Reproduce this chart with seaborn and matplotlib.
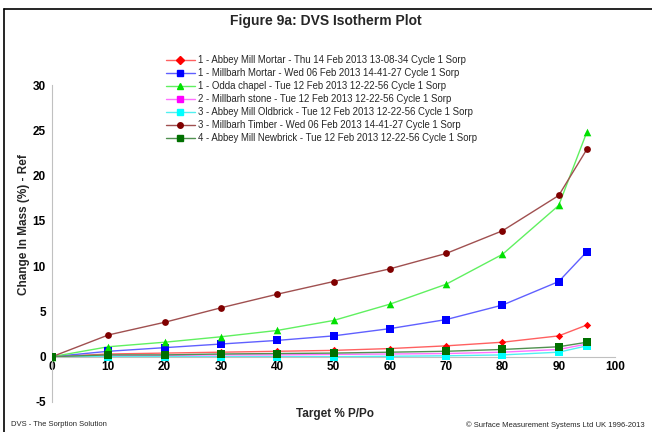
import matplotlib
matplotlib.use("Agg")
import matplotlib.pyplot as plt
from matplotlib.lines import Line2D
import numpy as np
import pandas as pd
import seaborn as sns

sns.set_style("white")
plt.rcParams["font.family"] = ["Liberation Sans", "DejaVu Sans"]
plt.rcParams["axes.unicode_minus"] = False

# Relative humidity targets (% P/Po)
target = [0, 10, 20, 30, 40, 50, 60, 70, 80, 90, 95]

series_names = [
    "1 - Abbey Mill Mortar - Thu 14 Feb 2013 13-08-34 Cycle 1 Sorp",
    "1 - Millbarh Mortar - Wed 06 Feb 2013 14-41-27 Cycle 1 Sorp",
    "1 - Odda chapel - Tue 12 Feb 2013 12-22-56 Cycle 1 Sorp",
    "2 - Millbarh stone - Tue 12 Feb 2013 12-22-56 Cycle 1 Sorp",
    "3 - Abbey Mill Oldbrick - Tue 12 Feb 2013 12-22-56 Cycle 1 Sorp",
    "3 - Millbarh Timber - Wed 06 Feb 2013 14-41-27 Cycle 1 Sorp",
    "4 - Abbey Mill Newbrick - Tue 12 Feb 2013 12-22-56 Cycle 1 Sorp",
]

# Change in mass (%) for each sample
abbey_mortar = [0, 0.3, 0.4, 0.5, 0.6, 0.7, 0.9, 1.2, 1.6, 2.3, 3.5]
millbarh_mortar = [0, 0.6, 1.0, 1.4, 1.8, 2.3, 3.1, 4.1, 5.7, 8.3, 11.6]
odda_chapel = [0, 1.1, 1.6, 2.2, 2.9, 4.0, 5.8, 8.0, 11.3, 16.7, 24.8]
millbarh_stone = [0, 0.1, 0.15, 0.2, 0.2, 0.25, 0.3, 0.35, 0.5, 0.8, 1.4]
abbey_oldbrick = [0, 0.0, 0.0, 0.0, 0.0, 0.0, 0.05, 0.1, 0.2, 0.5, 1.2]
millbarh_timber = [0, 2.4, 3.8, 5.4, 6.9, 8.3, 9.7, 11.4, 13.9, 17.8, 22.9]
abbey_newbrick = [0, 0.2, 0.2, 0.3, 0.35, 0.4, 0.5, 0.6, 0.8, 1.1, 1.6]

values = [abbey_mortar, millbarh_mortar, odda_chapel, millbarh_stone,
          abbey_oldbrick, millbarh_timber, abbey_newbrick]

marker_colors = ["#ff0000", "#0000ff", "#00e000", "#ff00ff", "#00ffff", "#800000", "#007000"]
line_colors = ["#ff6060", "#6060ff", "#60f060", "#ff70ff", "#50f0f0", "#a05050", "#509050"]
markers = ["D", "s", "^", "s", "s", "o", "s"]
marker_sizes = [14, 30, 30, 22, 26, 24, 40]

df = pd.DataFrame({
    "target": np.tile(target, len(series_names)),
    "mass": np.concatenate(values),
    "series": np.repeat(series_names, len(target)),
})

fig = plt.figure(figsize=(6.52, 4.32), dpi=100)
ax = fig.add_axes([52 / 652, 1 - 402 / 432, 563 / 652, 317 / 432])

for name, lc, mc, mk, ms in zip(series_names, line_colors, marker_colors, markers, marker_sizes):
    sub = df[df["series"] == name]
    sns.lineplot(data=sub, x="target", y="mass", ax=ax, color=lc, linewidth=1.0,
                 legend=False, zorder=2)
    sns.scatterplot(data=sub, x="target", y="mass", ax=ax, color=mc, marker=mk,
                    s=ms, linewidth=0, legend=False, zorder=3)

ax.set_xlim(0, 100)
ax.set_ylim(-5, 30)
ax.set_xticks(range(0, 101, 10))
ax.set_yticks(range(-5, 31, 5))
for s in ["top", "right"]:
    ax.spines[s].set_visible(False)
ax.spines["bottom"].set_position(("data", 0))
ax.spines["bottom"].set_color("#c0c0c0")
ax.spines["left"].set_color("#c0c0c0")
ax.tick_params(axis="both", labelsize=8.5, colors="#c0c0c0", labelcolor="black",
               length=2.5, width=0.8)
ax.tick_params(axis="y", direction="out", pad=2)
ax.tick_params(axis="x", direction="in", pad=3)
for lbl in ax.get_xticklabels() + ax.get_yticklabels():
    lbl.set_fontweight("bold")
ax.set_xlabel("")
ax.set_ylabel("")

fig.text(24 / 652, 1 - 225 / 432, "Change In Mass (%) - Ref", rotation=90,
         ha="center", va="center", fontsize=8.5, fontweight="bold")
fig.text(335 / 652, 1 - 414 / 432, "Target % P/Po", ha="center", va="center",
         fontsize=8.5, fontweight="bold")
fig.text(0.5, 1 - 21 / 432, "Figure 9a: DVS Isotherm Plot", ha="center", va="center",
         fontsize=10, fontweight="bold")
fig.text(11 / 652, 1 - 425 / 432, "DVS - The Sorption Solution", ha="left", va="center",
         fontsize=5.5)
fig.text(645 / 652, 1 - 425 / 432, "\u00a9 Surface Measurement Systems Ltd UK 1996-2013",
         ha="right", va="center", fontsize=5.5)

handles = [Line2D([0], [0], color=lc, marker=mk, markerfacecolor=mc, markeredgecolor=mc,
                  markersize=4, linewidth=1.0)
           for lc, mc, mk in zip(line_colors, marker_colors, markers)]
fig.legend(handles, series_names, loc="upper left", bbox_to_anchor=(166 / 652, 1 - 55 / 432),
           frameon=False, fontsize=6.9, handlelength=3.0, handletextpad=0.3,
           labelspacing=0.32, borderaxespad=0, borderpad=0)

# page frame lines
fig.add_artist(Line2D([4 / 652, 1], [1 - 9 / 432, 1 - 9 / 432], color="black", linewidth=1.2))
fig.add_artist(Line2D([4 / 652, 4 / 652], [0, 1 - 9 / 432], color="black", linewidth=1.2))

fig.savefig("out.png", dpi=100)
